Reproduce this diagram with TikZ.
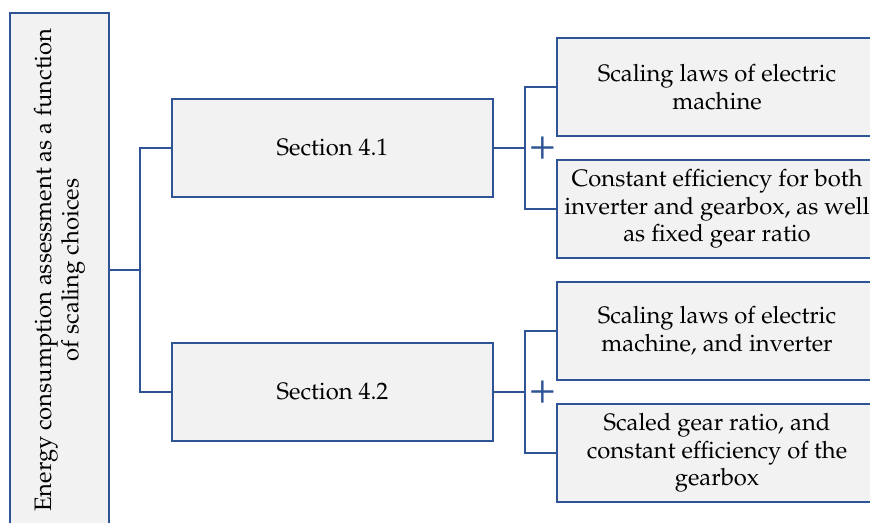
\documentclass[tikz,border=0pt]{standalone}
\usepackage[T1]{fontenc}
\usepackage{mathpazo}
\usetikzlibrary{positioning}
\definecolor{boxblue}{RGB}{47,84,150}
\definecolor{boxgrey}{RGB}{242,242,242}
\tikzset{
  box/.style={draw=boxblue, line width=1.2pt, fill=boxgrey, align=center,
    minimum width=160.5pt, minimum height=49pt, inner sep=0.5pt,
    font=\fontsize{11.9}{13.7}\selectfont},
  link/.style={draw=boxblue, line width=1.2pt},
  plus/.style={text=boxblue, inner sep=0pt, font=\fontsize{22}{22}\selectfont}
}
\begin{document}
\begin{tikzpicture}[x=0.5pt, y=-0.5pt]
  % Frame
  \useasboundingbox (0,0) rectangle (870,523);
  \clip (0,0) rectangle (870,523);

  % Boxes
  \node[box, rotate=90, minimum width=257pt, minimum height=49.5pt] (energy) at (59.5,270)
    {Energy consumption assessment as a function\\of scaling choices};
  \node[box] (sec1) at (332.5,148) {Section 4.1};
  \node[box] (sec2) at (332.5,392) {Section 4.2};
  \node[box, minimum width=160pt] (laws1) at (717,87) {Scaling laws of electric\\machine};
  \node[box, minimum width=160pt] (const1) at (717,209) {Constant efficiency for both\\inverter and gearbox, as well\\as fixed gear ratio};
  \node[box, minimum width=160pt] (laws2) at (717,331) {Scaling laws of electric\\machine, and inverter};
  \node[box, minimum width=160pt] (gear2) at (717,453) {Scaled gear ratio, and\\constant efficiency of the\\gearbox};

  % Junctions
  \coordinate (j0) at (140,270);
  \coordinate (j1) at (525,148);
  \coordinate (j2) at (525,392);

  % Connectors
  \draw[link] (energy.south) -- (j0);
  \draw[link] (sec1.west) -| (j0) |- (sec2.west);
  \draw[link] (sec1.east) -- (j1);
  \draw[link] (laws1.west) -| (j1) |- (const1.west);
  \draw[link] (sec2.east) -- (j2);
  \draw[link] (laws2.west) -| (j2) |- (gear2.west);

  % Plus signs
  \node[plus] (plus1) at (543,148) {+};
  \node[plus] (plus2) at (543,392) {+};
\end{tikzpicture}
\end{document}
